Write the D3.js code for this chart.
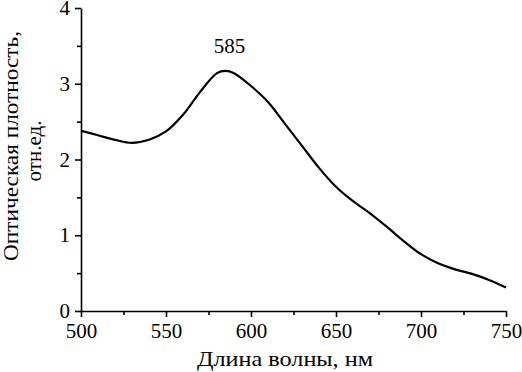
<!DOCTYPE html>
<html><head><meta charset="utf-8">
<script src="https://cdn.jsdelivr.net/npm/d3@7"></script>
<style>
html,body{margin:0;padding:0;background:#fff;}
svg text{font-family:"Liberation Serif","Tinos","Times New Roman","DejaVu Serif",serif !important;fill:#000;}
</style></head>
<body>
<svg id="chart" width="522" height="372"></svg>
<script>
const wavelengths = [500,510,520,530,540,550,560,570,580,585,590,600,610,620,630,640,650,660,670,680,690,700,710,720,730,740,750];
const absorbance  = [2.38,2.32,2.26,2.22,2.26,2.37,2.59,2.89,3.14,3.17,3.14,2.97,2.76,2.47,2.18,1.89,1.64,1.45,1.29,1.11,0.92,0.75,0.63,0.55,0.49,0.41,0.31];
const xTicks = [500,550,600,650,700,750];
const xMinor = [525,575,625,675,725];
const yTicks = [0,1,2,3,4];
const yMinor = [0.5,1.5,2.5,3.5];
const peakLabel = {x:585, text:"585"};
const xTitle = "Длина волны, нм";
const yTitle1 = "Оптическая плотность,";
const yTitle2 = "отн.ед.";

const svg = d3.select("#chart");
const mLeft = 81, mRight = 506, mTop = 8, mBottom = 311;
const x = d3.scaleLinear().domain([500,750]).range([mLeft,mRight]);
const y = d3.scaleLinear().domain([0,4]).range([mBottom,mTop]);
const fs = 21;
const ff = '"Liberation Serif","Tinos","Times New Roman","DejaVu Serif",serif';

// minor ticks
const gxm = svg.append("g").attr("transform",`translate(0,${mBottom})`)
  .call(d3.axisBottom(x).tickValues(xMinor).tickSize(4).tickFormat(""));
gxm.select(".domain").remove();
const gym = svg.append("g").attr("transform",`translate(${mLeft},0)`)
  .call(d3.axisLeft(y).tickValues(yMinor).tickSize(4).tickFormat(""));
gym.select(".domain").remove();

const gx = svg.append("g").attr("transform",`translate(0,${mBottom})`)
  .call(d3.axisBottom(x).tickValues(xTicks).tickSize(6).tickSizeOuter(0).tickPadding(6).tickFormat(d3.format("d")));
const gy = svg.append("g").attr("transform",`translate(${mLeft},0)`)
  .call(d3.axisLeft(y).tickValues(yTicks).tickSize(6).tickSizeOuter(0).tickPadding(5).tickFormat(d3.format("d")));

svg.selectAll("g").attr("font-family",ff);
svg.selectAll(".tick text").attr("font-size",fs);
svg.selectAll(".domain, .tick line").attr("stroke","#000").attr("stroke-width",1.6);

// curve
const line = d3.line().x((d,i)=>x(wavelengths[i])).y(d=>y(d)).curve(d3.curveCatmullRom.alpha(0.5));
svg.append("path").datum(absorbance).attr("d",line)
  .attr("fill","none").attr("stroke","#000").attr("stroke-width",2.2);

// peak label
svg.append("text").attr("x",x(peakLabel.x)+4).attr("y",53).attr("text-anchor","middle")
  .attr("font-family",ff).attr("font-size",fs).text(peakLabel.text);

// axis titles
svg.append("text").attr("x",285).attr("y",366).attr("text-anchor","middle")
  .attr("font-family",ff).attr("font-size",22).attr("textLength",176).attr("lengthAdjust","spacingAndGlyphs").text(xTitle);
svg.append("text").attr("transform","translate(18,146) rotate(-90)").attr("text-anchor","middle")
  .attr("font-family",ff).attr("font-size",21).attr("textLength",230).attr("lengthAdjust","spacingAndGlyphs").text(yTitle1);
svg.append("text").attr("transform","translate(41,151) rotate(-90)").attr("text-anchor","middle")
  .attr("font-family",ff).attr("font-size",21).text(yTitle2);
</script>
</body></html>
